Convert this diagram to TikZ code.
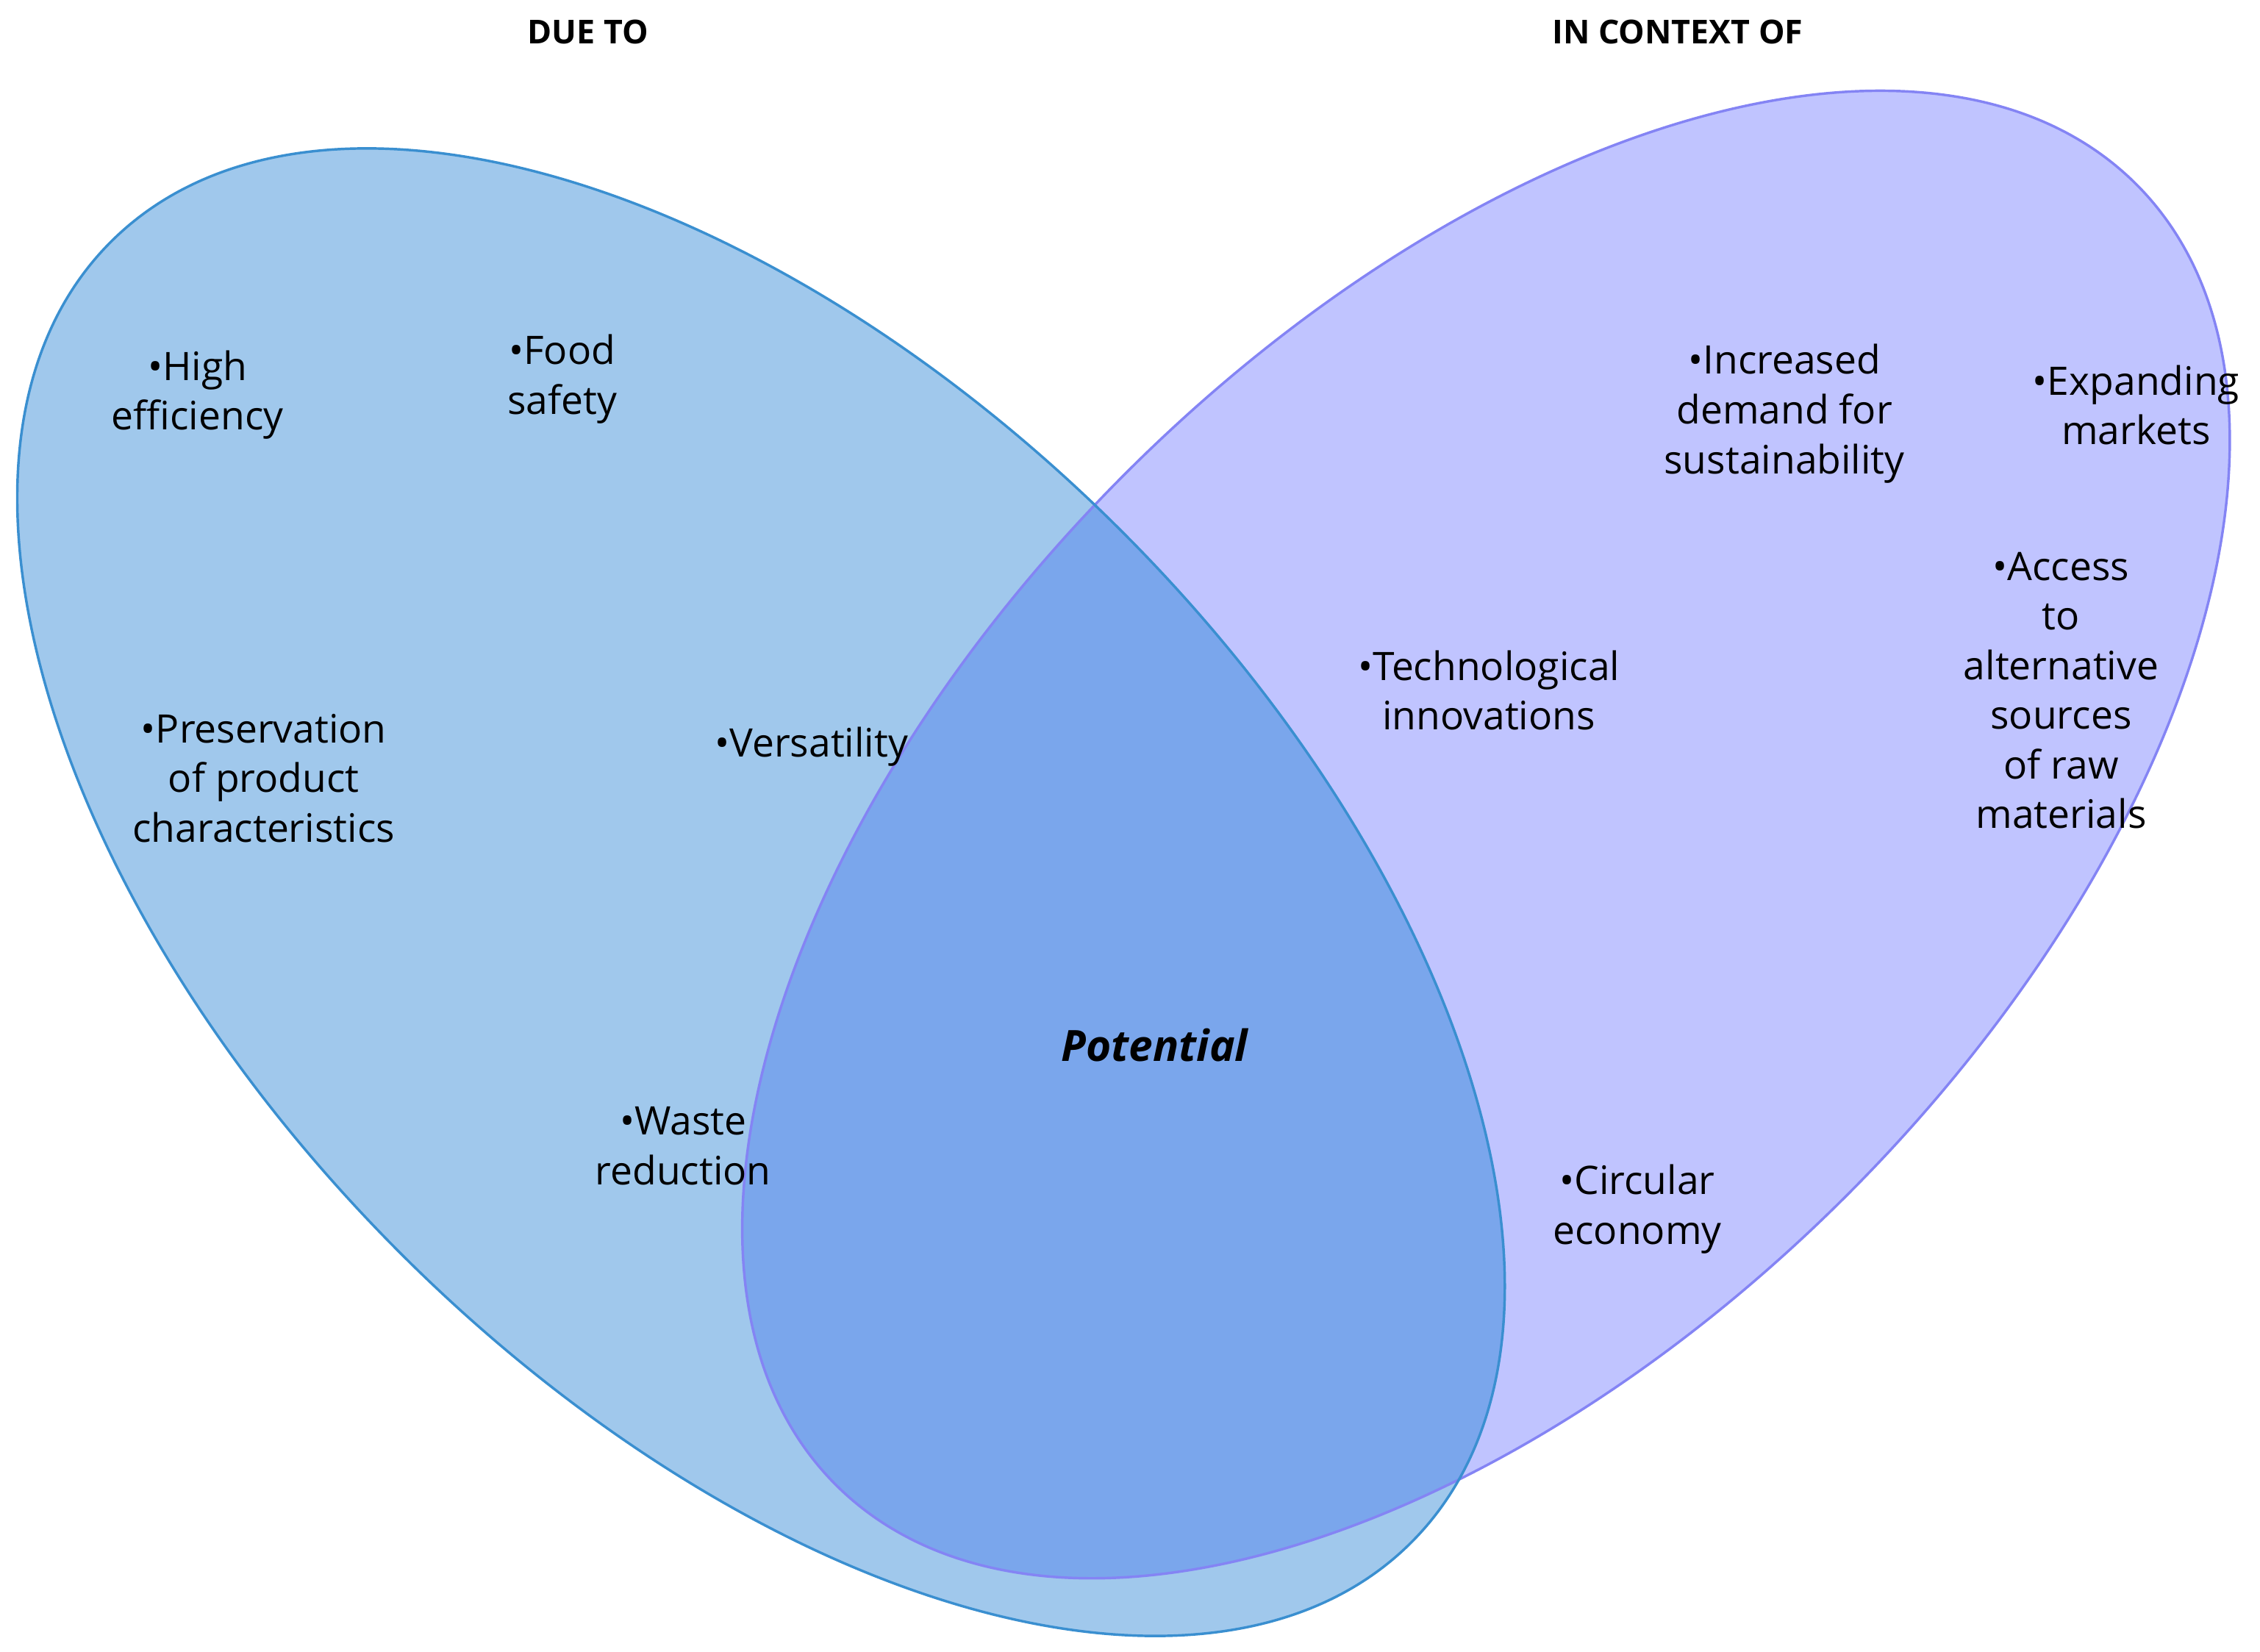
\documentclass[tikz,border=0pt]{standalone}
\usepackage{fontspec}
\setmainfont{Open Sans}
\usepackage{tikz}

\definecolor{dueFill}{HTML}{A0C8EC}
\definecolor{dueLine}{HTML}{3A8FD0}
\definecolor{ctxFill}{HTML}{C0C4FF}
\definecolor{ctxLine}{HTML}{8484F4}
\definecolor{bothFill}{HTML}{7AA6EC}

\begin{document}
\begin{tikzpicture}[x=0.02cm,y=0.02cm,
    item/.style={align=center, font=\fontsize{15.5}{19.6}\selectfont, inner sep=0pt},
    head/.style={font=\fontsize{13}{16}\selectfont\bfseries, inner sep=0pt},
    ]
    \useasboundingbox (0,0) rectangle (1568,1146);
    % the two sets
    \fill[ctxFill] (1031,567) ellipse [x radius=638, y radius=354, rotate=45];
    \fill[dueFill] (528,527) ellipse [x radius=638, y radius=354, rotate=-45];
    \begin{scope}
        \clip (1031,567) ellipse [x radius=638, y radius=354, rotate=45];
        \fill[bothFill] (528,527) ellipse [x radius=638, y radius=354, rotate=-45];
    \end{scope}
    \draw[ctxLine, line width=1pt] (1031,567) ellipse [x radius=638, y radius=354, rotate=45];
    \draw[dueLine, line width=1pt] (528,527) ellipse [x radius=638, y radius=354, rotate=-45];
    % headings
    \node[head] (dueto) at (408,1124) {DUE TO};
    \node[head] (context) at (1164,1124) {IN CONTEXT OF};
    % left set
    \node[item] (effic) at (137,872) {•High\\efficiency};
    \node[item] (safety) at (390,883) {•Food\\safety};
    \node[item] (preserv) at (183,606) {•Preservation\\of product\\characteristics};
    \node[item] (versat) at (563,628) {•Versatility};
    \node[item] (waste) at (474,351) {•Waste\\reduction};
    % overlap
    \node[item, font=\fontsize{17}{20}\selectfont\bfseries\itshape] (potential) at (801,421) {Potential};
    % right set
    \node[item] (techno) at (1033,667) {•Technological\\innovations};
    \node[item] (demand) at (1238,859) {•Increased\\demand for\\sustainability};
    \node[item] (markets) at (1482,865) {•Expanding\\markets};
    \node[item] (access) at (1430,667) {•Access\\to\\alternative\\sources\\of raw\\materials};
    \node[item] (circular) at (1136,307) {•Circular\\economy};
\end{tikzpicture}
\end{document}
